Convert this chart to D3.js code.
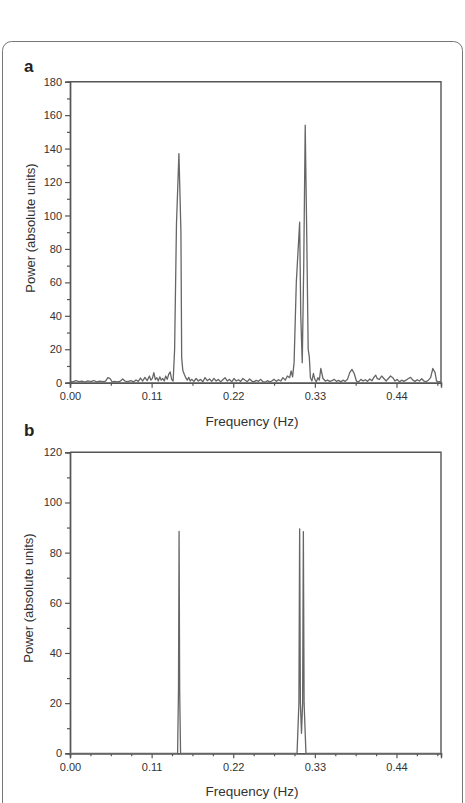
<!DOCTYPE html>
<html>
<head>
<meta charset="utf-8">
<script src="https://cdn.jsdelivr.net/npm/d3@7"></script>
<style>
  body { margin: 0; background: #fff; }
  svg { display: block; font-family: "Liberation Sans", Arial, sans-serif; }
</style>
</head>
<body>
<div id="chart"></div>
<script>
// panel a: noisy power spectrum
const freqA = [0.000,0.004,0.008,0.012,0.016,0.020,0.024,0.028,0.032,0.036,0.040,0.044,0.048,0.051,0.054,0.057,0.060,0.064,0.068,0.071,0.074,0.078,0.082,0.086,0.089,0.092,0.095,0.098,0.101,0.104,0.107,0.109,0.111,0.113,0.115,0.117,0.119,0.121,0.123,0.125,0.127,0.129,0.131,0.133,0.135,0.137,0.139,0.141,0.1435,0.1468,0.1495,0.1505,0.152,0.154,0.156,0.158,0.160,0.162,0.164,0.167,0.170,0.173,0.176,0.179,0.182,0.185,0.188,0.191,0.194,0.197,0.200,0.203,0.206,0.209,0.212,0.215,0.218,0.221,0.224,0.227,0.230,0.233,0.236,0.239,0.242,0.245,0.248,0.251,0.254,0.257,0.260,0.263,0.266,0.269,0.272,0.275,0.278,0.281,0.284,0.287,0.290,0.293,0.296,0.298,0.300,0.302,0.305,0.3095,0.311,0.313,0.315,0.317,0.319,0.321,0.3225,0.324,0.326,0.328,0.330,0.332,0.334,0.336,0.338,0.341,0.344,0.347,0.350,0.353,0.356,0.359,0.362,0.365,0.368,0.371,0.374,0.377,0.380,0.383,0.386,0.389,0.392,0.395,0.398,0.401,0.404,0.407,0.410,0.412,0.414,0.417,0.420,0.423,0.426,0.429,0.432,0.435,0.438,0.441,0.444,0.447,0.450,0.453,0.456,0.459,0.462,0.465,0.468,0.471,0.474,0.477,0.480,0.483,0.486,0.489,0.492,0.494,0.497,0.500];
const powerA = [1.0,0.5,1.2,0.6,1.0,0.4,1.1,0.7,1.3,0.5,0.9,0.6,1.0,3.0,2.5,0.3,0.8,0.5,1.0,2.2,1.0,0.6,1.2,0.5,1.6,0.8,2.8,1.0,3.2,1.2,4.0,1.5,2.6,6.0,1.8,3.0,1.0,3.5,1.5,2.5,1.0,4.0,2.0,5.0,6.5,2.0,1.0,20,95,137,90,15,7.5,5,3,1.5,3.2,1.0,2.0,0.8,2.5,1.0,2.0,0.6,3.0,1.2,2.2,0.8,2.6,1.0,2.0,0.5,1.8,3.0,1.0,2.0,0.5,2.5,1.0,1.8,0.8,2.5,1.5,0.6,2.2,1.0,0.5,1.4,0.8,2.0,0.6,0.3,1.2,0.5,1.0,2.0,0.8,1.8,1.0,3.0,1.5,4.0,3.0,7.0,3.5,12,60,96,40,12,70,154,90,20,15.5,3,1.0,5.5,2.0,0.5,3.0,1.5,8.5,2.5,1.0,1.5,0.8,1.2,2.0,0.8,1.4,0.5,1.5,0.8,2.0,6.0,8.0,5.5,1.0,0.5,2.0,1.0,1.8,0.8,2.2,1.2,3.5,4.5,2.5,2.0,4.0,2.5,1.0,2.5,4.0,3.0,1.0,2.0,0.5,1.5,0.8,1.5,2.5,3.2,1.5,0.8,1.8,1.0,2.4,1.0,0.6,1.5,3.0,8.5,6.0,1.0,0.5,0.8];

// panel b: clean spectrum
const freqB = [0.000,0.145,0.1462,0.147,0.1478,0.149,0.306,0.3085,0.3095,0.3105,0.312,0.3135,0.3145,0.3155,0.318,0.500];
const powerB = [0,0,25,88.5,25,0,0,20,89.5,20,8,20,88.4,20,0,0];

const xTicks = [0.00, 0.11, 0.22, 0.33, 0.44];
const yTicksA = [0, 20, 40, 60, 80, 100, 120, 140, 160, 180];
const yTicksB = [0, 20, 40, 60, 80, 100, 120];

const width = 465, height = 803;
const ink = '#555';

const svg = d3.select('#chart').append('svg')
  .attr('width', width)
  .attr('height', height);

svg.append('rect')
  .attr('x', 2.5).attr('y', 41.5)
  .attr('width', 460).attr('height', 800)
  .attr('rx', 9)
  .attr('fill', 'none')
  .attr('stroke', '#777')
  .attr('stroke-width', 1);

function drawPanel(opts) {
  const { letter, freq, power, yTicks, yMax, top, bottom, minorX } = opts;
  const left = 70, right = 441;
  const g = svg.append('g');

  const x = d3.scaleLinear().domain([0, 0.5]).range([left, right]);
  const y = d3.scaleLinear().domain([0, yMax]).range([bottom, top]);

  // minor ticks
  const step = 0.11 / (minorX + 1);
  const xMinor = d3.range(0, 0.5 + 1e-9, step)
    .filter((v) => Math.abs(v / 0.11 - Math.round(v / 0.11)) > 1e-6);
  const yMinor = d3.range(10, yMax, 20);

  const xAxis = d3.axisBottom(x).tickValues(xTicks)
    .tickFormat(d3.format('.2f')).tickSize(5).tickPadding(5);
  const yAxis = d3.axisLeft(y).tickValues(yTicks)
    .tickFormat(d3.format('d')).tickSize(5).tickPadding(3);

  g.append('g').attr('transform', `translate(0,${bottom})`).call(xAxis);
  g.append('g').attr('transform', `translate(0,${bottom})`)
    .call(d3.axisBottom(x).tickValues(xMinor).tickSize(3).tickFormat(''));
  g.append('g').attr('transform', `translate(${left},0)`).call(yAxis);
  g.append('g').attr('transform', `translate(${left},0)`)
    .call(d3.axisLeft(y).tickValues(yMinor).tickSize(3).tickFormat(''));

  g.selectAll('.domain').attr('stroke', ink).attr('stroke-width', 1.4);
  g.selectAll('.tick line').attr('stroke', ink).attr('stroke-width', 1.2);
  g.selectAll('.tick text').attr('fill', '#333').style('font-size', '11px');

  // frame top and right
  g.append('path')
    .attr('d', `M${left},${top}H${right}V${bottom}`)
    .attr('fill', 'none').attr('stroke', ink).attr('stroke-width', 1.4);

  const line = d3.line()
    .x((d, i) => x(freq[i]))
    .y((d) => y(d));

  g.append('path')
    .datum(power)
    .attr('d', line)
    .attr('fill', 'none')
    .attr('stroke', '#666')
    .attr('stroke-width', 1.3)
    .attr('stroke-linejoin', 'round');

  g.append('text')
    .attr('x', 252)
    .attr('y', bottom + 43)
    .attr('text-anchor', 'middle')
    .attr('fill', '#333')
    .style('font-size', '13.5px')
    .text('Frequency (Hz)');

  g.append('text')
    .attr('transform', `translate(${opts.titleX},${opts.titleY}) rotate(-90)`)
    .attr('text-anchor', 'middle')
    .attr('fill', '#333')
    .style('font-size', '13px')
    .text('Power (absolute units)');

  g.append('text')
    .attr('x', 24).attr('y', opts.letterY)
    .attr('fill', '#222')
    .style('font-size', '17px')
    .style('font-weight', 'bold')
    .text(letter);
}

drawPanel({
  letter: 'a', freq: freqA, power: powerA, yTicks: yTicksA, yMax: 180,
  top: 81.7, bottom: 382.7, minorX: 1, titleX: 35, titleY: 228, letterY: 72
});

drawPanel({
  letter: 'b', freq: freqB, power: powerB, yTicks: yTicksB, yMax: 120,
  top: 452.3, bottom: 753.3, minorX: 3, titleX: 33, titleY: 598, letterY: 436
});
</script>
</body>
</html>
